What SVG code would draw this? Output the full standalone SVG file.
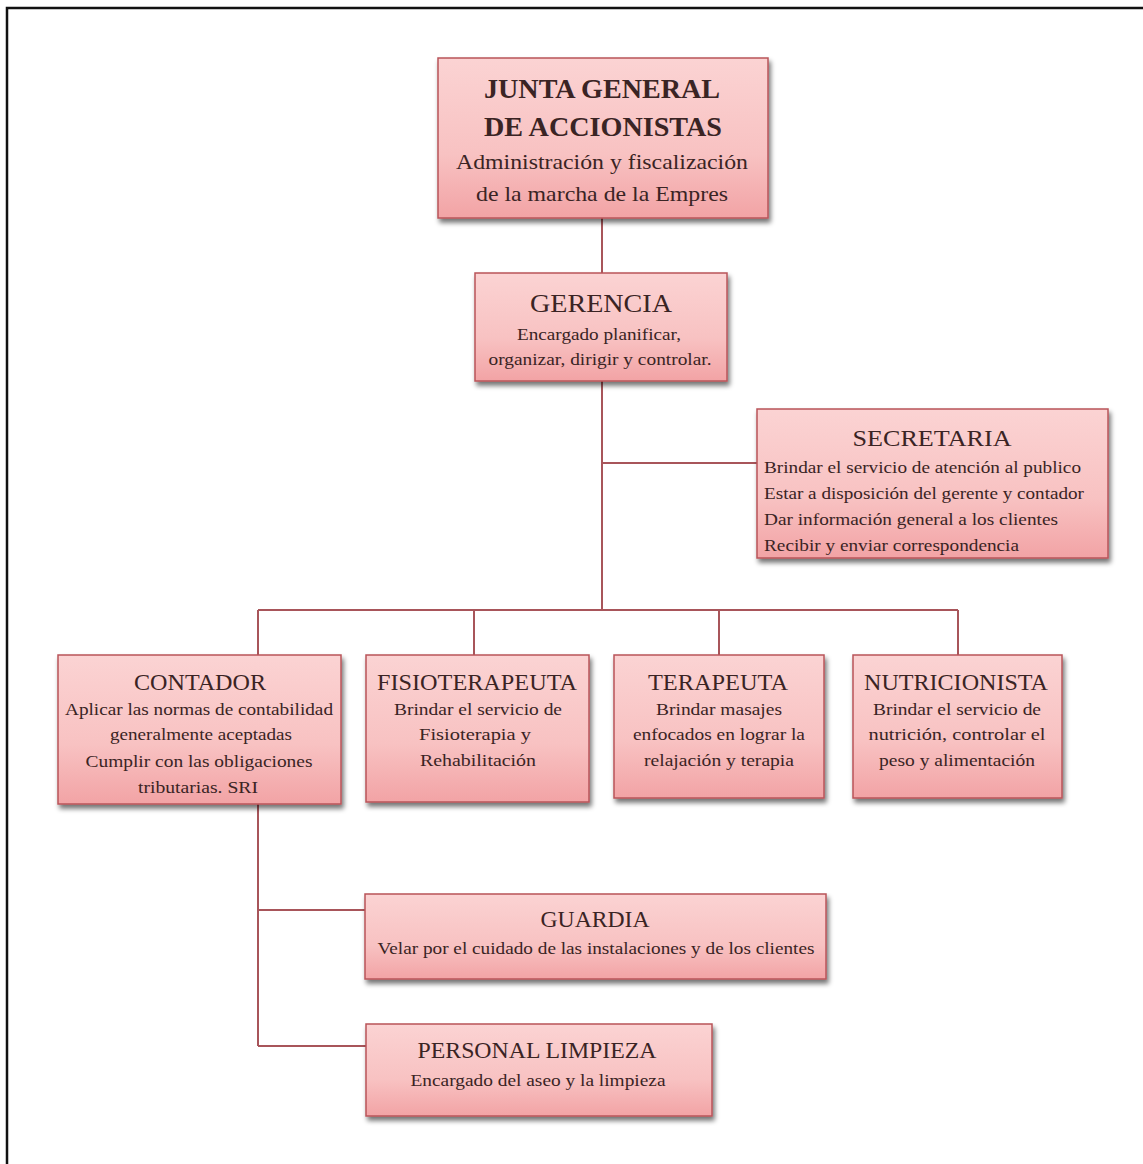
<svg xmlns="http://www.w3.org/2000/svg" width="1143" height="1164" viewBox="0 0 1143 1164">
<defs>
<linearGradient id="g" x1="0" y1="0" x2="0" y2="1">
<stop offset="0" stop-color="#fbd3d3"/>
<stop offset="0.6" stop-color="#f8c2c2"/>
<stop offset="1" stop-color="#f2a3a5"/>
</linearGradient>
<filter id="sh" x="-5%" y="-5%" width="115%" height="125%">
<feGaussianBlur in="SourceAlpha" stdDeviation="2.5"/>
<feOffset dx="2" dy="4" result="b"/>
<feComponentTransfer><feFuncA type="linear" slope="0.55"/></feComponentTransfer>
<feMerge><feMergeNode/><feMergeNode in="SourceGraphic"/></feMerge>
</filter>
</defs>
<style>
.box{fill:url(#g);stroke:#b9545a;stroke-width:1.5;filter:url(#sh)}
.t{font-family:"Liberation Serif","Times New Roman",serif;fill:#3a2424;text-anchor:middle}
.l{text-anchor:start}
.h{font-size:26px}
.hb{font-size:28px;font-weight:bold}
.s{font-size:17px}
.m{font-size:22px}
.c{fill:none;stroke:#a8555a;stroke-width:2}
</style>
<rect width="1143" height="1164" fill="#ffffff"/>
<path d="M7,1164 V8 H1143" fill="none" stroke="#111" stroke-width="2.5"/>

<g id="connectors">
<path class="c" d="M602,218 V273"/>
<path class="c" d="M602,381 V610"/>
<path class="c" d="M602,463 H757"/>
<path class="c" d="M258,610 H958"/>
<path class="c" d="M258,610 V655 M474,610 V655 M719,610 V655 M958,610 V655"/>
<path class="c" d="M258,804 V1046"/>
<path class="c" d="M258,910 H365"/>
<path class="c" d="M258,1046 H366"/>
</g>

<g id="junta">
<rect class="box" x="438" y="58" width="330" height="160"/>
<text class="t hb" x="602" y="98" textLength="236" lengthAdjust="spacingAndGlyphs">JUNTA GENERAL</text>
<text class="t hb" x="603" y="136" textLength="238" lengthAdjust="spacingAndGlyphs">DE ACCIONISTAS</text>
<text class="t m" x="602" y="169" textLength="292" lengthAdjust="spacingAndGlyphs">Administración y fiscalización</text>
<text class="t m" x="602" y="201" textLength="252" lengthAdjust="spacingAndGlyphs">de la marcha de la Empres</text>
</g>

<g id="gerencia">
<rect class="box" x="475" y="273" width="252" height="108"/>
<text class="t h" x="601" y="312" textLength="142" lengthAdjust="spacingAndGlyphs">GERENCIA</text>
<text class="t s" x="599" y="340" textLength="164" lengthAdjust="spacingAndGlyphs">Encargado planificar,</text>
<text class="t s" x="600" y="365" textLength="223" lengthAdjust="spacingAndGlyphs">organizar, dirigir y controlar.</text>
</g>

<g id="secretaria">
<rect class="box" x="757" y="409" width="351" height="149"/>
<text class="t" style="font-size:24px" x="932" y="446" textLength="159" lengthAdjust="spacingAndGlyphs">SECRETARIA</text>
<text class="t s l" x="764" y="473" textLength="317" lengthAdjust="spacingAndGlyphs">Brindar el servicio de atención al publico</text>
<text class="t s l" x="764" y="499" textLength="320" lengthAdjust="spacingAndGlyphs">Estar a disposición del gerente y contador</text>
<text class="t s l" x="764" y="525" textLength="294" lengthAdjust="spacingAndGlyphs">Dar información general a los clientes</text>
<text class="t s l" x="764" y="551" textLength="255" lengthAdjust="spacingAndGlyphs">Recibir y enviar correspondencia</text>
</g>

<g id="contador">
<rect class="box" x="58" y="655" width="283" height="149"/>
<text class="t" style="font-size:24px" x="200" y="690" textLength="132" lengthAdjust="spacingAndGlyphs">CONTADOR</text>
<text class="t s" x="199" y="715" textLength="268" lengthAdjust="spacingAndGlyphs">Aplicar las normas de contabilidad</text>
<text class="t s" x="201" y="740" textLength="182" lengthAdjust="spacingAndGlyphs">generalmente aceptadas</text>
<text class="t s" x="199" y="767" textLength="227" lengthAdjust="spacingAndGlyphs">Cumplir con las obligaciones</text>
<text class="t s" x="198" y="793" textLength="120" lengthAdjust="spacingAndGlyphs">tributarias. SRI</text>
</g>

<g id="fisioterapeuta">
<rect class="box" x="366" y="655" width="223" height="147"/>
<text class="t" style="font-size:24px" x="477" y="690" textLength="200" lengthAdjust="spacingAndGlyphs">FISIOTERAPEUTA</text>
<text class="t s" x="478" y="715" textLength="168" lengthAdjust="spacingAndGlyphs">Brindar el servicio de</text>
<text class="t s" x="475" y="740" textLength="112" lengthAdjust="spacingAndGlyphs">Fisioterapia y</text>
<text class="t s" x="478" y="766" textLength="116" lengthAdjust="spacingAndGlyphs">Rehabilitación</text>
</g>

<g id="terapeuta">
<rect class="box" x="614" y="655" width="210" height="143"/>
<text class="t" style="font-size:24px" x="718" y="690" textLength="140" lengthAdjust="spacingAndGlyphs">TERAPEUTA</text>
<text class="t s" x="719" y="715" textLength="126" lengthAdjust="spacingAndGlyphs">Brindar masajes</text>
<text class="t s" x="719" y="740" textLength="172" lengthAdjust="spacingAndGlyphs">enfocados en lograr la</text>
<text class="t s" x="719" y="766" textLength="150" lengthAdjust="spacingAndGlyphs">relajación y terapia</text>
</g>

<g id="nutricionista">
<rect class="box" x="853" y="655" width="209" height="143"/>
<text class="t" style="font-size:24px" x="956" y="690" textLength="184" lengthAdjust="spacingAndGlyphs">NUTRICIONISTA</text>
<text class="t s" x="957" y="715" textLength="168" lengthAdjust="spacingAndGlyphs">Brindar el servicio de</text>
<text class="t s" x="957" y="740" textLength="177" lengthAdjust="spacingAndGlyphs">nutrición, controlar el</text>
<text class="t s" x="957" y="766" textLength="156" lengthAdjust="spacingAndGlyphs">peso y alimentación</text>
</g>

<g id="guardia">
<rect class="box" x="365" y="894" width="461" height="85"/>
<text class="t" style="font-size:24px" x="595" y="927" textLength="109" lengthAdjust="spacingAndGlyphs">GUARDIA</text>
<text class="t s" x="596" y="954" textLength="437" lengthAdjust="spacingAndGlyphs">Velar por el cuidado de las instalaciones y de los clientes</text>
</g>

<g id="personal-limpieza">
<rect class="box" x="366" y="1024" width="346" height="92"/>
<text class="t" style="font-size:24px" x="537" y="1058" textLength="239" lengthAdjust="spacingAndGlyphs">PERSONAL LIMPIEZA</text>
<text class="t s" x="538" y="1086" textLength="255" lengthAdjust="spacingAndGlyphs">Encargado del aseo y la limpieza</text>
</g>
</svg>
